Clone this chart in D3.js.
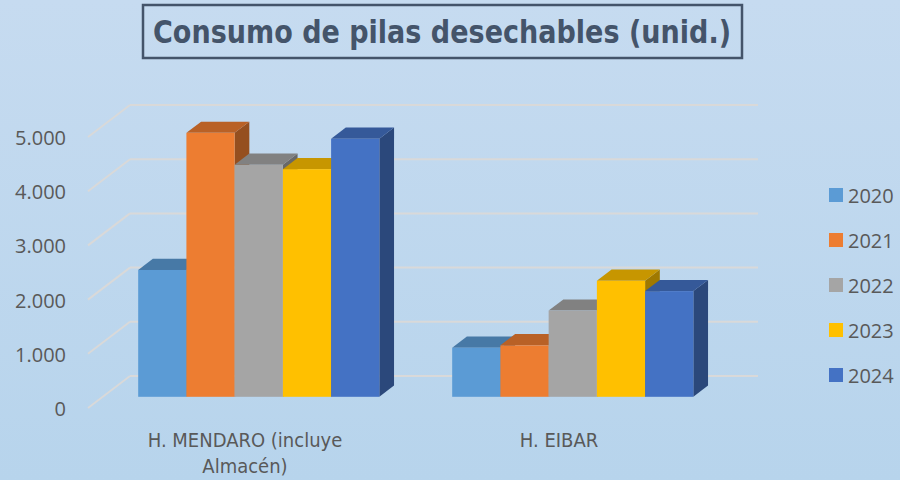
<!DOCTYPE html>
<html>
<head>
<meta charset="utf-8">
<script src="https://cdn.jsdelivr.net/npm/d3@7"></script>
<style>
  html, body { margin: 0; padding: 0; }
  body { width: 900px; height: 480px; overflow: hidden; }
</style>
</head>
<body>
<div id="chart"></div>
<script>
// data
var categories = ["H. MENDARO (incluye Almacén)", "H. EIBAR"];
var categoryLines = [["H. MENDARO (incluye", "Almacén)"], ["H. EIBAR"]];
var years = ["2020", "2021", "2022", "2023", "2024"];
var values2020 = [2340, 905];
var values2021 = [4870, 950];
var values2022 = [4280, 1590];
var values2023 = [4200, 2140];
var values2024 = [4760, 1950];
var yTicks = [0, 1000, 2000, 3000, 4000, 5000];
var colors = ["#5B9BD5", "#ED7D31", "#A5A5A5", "#FFC000", "#4472C4"];

var seriesValues = [values2020, values2021, values2022, values2023, values2024];

var width = 900, height = 480;

// front plane of the 3d box and the depth offset towards the back wall
var front = { left: 88, right: 716, bottom: 408, top: 137 };
var depth = { dx: 42, dy: -32 };
var barFront = 0.35, barBack = 0.70;   // bar position inside the depth

var svg = d3.select("#chart")
  .append("svg")
  .attr("width", width)
  .attr("height", height);

// background gradient
var defs = svg.append("defs");
var grad = defs.append("linearGradient")
  .attr("id", "bg")
  .attr("x1", 0).attr("y1", 0).attr("x2", 0).attr("y2", 1);
grad.append("stop").attr("offset", "0%").attr("stop-color", "#C6DBF0");
grad.append("stop").attr("offset", "100%").attr("stop-color", "#B7D4EC");

svg.append("rect")
  .attr("width", width)
  .attr("height", height)
  .attr("fill", "url(#bg)");

// scales
var y = d3.scaleLinear()
  .domain([0, 5000])
  .range([front.bottom, front.top]);

var x0 = d3.scaleBand()
  .domain(categories)
  .range([front.left, front.right])
  .padding(0);

var x1 = d3.scaleBand()
  .domain(years)
  .range([x0.bandwidth() * 0.113, x0.bandwidth() * 0.881])
  .padding(0);

// gridlines: back wall + left side wall edge
var grid = svg.append("g").attr("class", "grid");
grid.selectAll("line.back")
  .data(yTicks)
  .enter().append("line")
  .attr("class", "back")
  .attr("x1", front.left + depth.dx)
  .attr("x2", front.right + depth.dx)
  .attr("y1", function (d) { return y(d) + depth.dy; })
  .attr("y2", function (d) { return y(d) + depth.dy; })
  .attr("stroke", "#D9D9D9")
  .attr("stroke-width", 2);

grid.selectAll("line.side")
  .data(yTicks)
  .enter().append("line")
  .attr("class", "side")
  .attr("x1", front.left)
  .attr("y1", function (d) { return y(d); })
  .attr("x2", front.left + depth.dx)
  .attr("y2", function (d) { return y(d) + depth.dy; })
  .attr("stroke", "#D9D9D9")
  .attr("stroke-width", 2);

// 3d bars, drawn left to right so each front face covers the side of the previous bar
var fx = depth.dx * barFront, fy = depth.dy * barFront;
var bx = depth.dx * barBack, by = depth.dy * barBack;

var bars = [];
categories.forEach(function (c, ci) {
  years.forEach(function (yr, si) {
    bars.push({ cat: c, year: yr, value: seriesValues[si][ci], color: colors[si] });
  });
});

var bar = svg.append("g").attr("class", "bars")
  .selectAll("g")
  .data(bars)
  .enter().append("g");

function pts(arr) { return arr.map(function (p) { return p.join(","); }).join(" "); }

bar.append("polygon")
  .attr("points", function (d) {
    var xl = x0(d.cat) + x1(d.year), xr = xl + x1.bandwidth();
    var yv = y(d.value), yb = y(0);
    return pts([[xr + fx, yv + fy], [xr + bx, yv + by], [xr + bx, yb + by], [xr + fx, yb + fy]]);
  })
  .attr("fill", function (d) { return d3.color(d.color).darker(1.3); });

bar.append("polygon")
  .attr("points", function (d) {
    var xl = x0(d.cat) + x1(d.year), xr = xl + x1.bandwidth();
    var yv = y(d.value);
    return pts([[xl + fx, yv + fy], [xr + fx, yv + fy], [xr + bx, yv + by], [xl + bx, yv + by]]);
  })
  .attr("fill", function (d) { return d3.color(d.color).darker(0.7); });

bar.append("rect")
  .attr("x", function (d) { return x0(d.cat) + x1(d.year) + fx; })
  .attr("y", function (d) { return y(d.value) + fy; })
  .attr("width", x1.bandwidth())
  .attr("height", function (d) { return y(0) - y(d.value); })
  .attr("fill", function (d) { return d.color; });

// y axis labels
var locale = d3.formatLocale({ decimal: ",", thousands: ".", grouping: [3], currency: ["", "€"] });
var yAxis = d3.axisLeft(y)
  .tickValues(yTicks)
  .tickFormat(locale.format(",d"))
  .tickSize(0)
  .tickPadding(0);

var yg = svg.append("g")
  .attr("transform", "translate(66,1)")
  .call(yAxis);
yg.select(".domain").remove();
yg.selectAll("text")
  .attr("font-family", "'Open Sans', sans-serif")
  .attr("font-size", 20)
  .attr("fill", "#595959");

// category labels
var catG = svg.append("g").attr("class", "cats");
categories.forEach(function (c, i) {
  var t = catG.append("text")
    .attr("x", x0(c) + x0.bandwidth() / 2)
    .attr("y", 447)
    .attr("text-anchor", "middle")
    .attr("font-family", "'DejaVu Sans Condensed', sans-serif")
    .attr("font-stretch", "condensed")
    .attr("font-size", 20)
    .attr("fill", "#595959");
  categoryLines[i].forEach(function (line, li) {
    t.append("tspan")
      .attr("x", x0(c) + x0.bandwidth() / 2)
      .attr("dy", li === 0 ? 0 : 26)
      .text(line);
  });
});

// legend
var legend = svg.append("g").attr("class", "legend")
  .selectAll("g")
  .data(years)
  .enter().append("g")
  .attr("transform", function (d, i) { return "translate(829," + (195 + i * 45) + ")"; });

legend.append("rect")
  .attr("x", 0)
  .attr("y", -7)
  .attr("width", 14)
  .attr("height", 14)
  .attr("fill", function (d, i) { return colors[i]; });

legend.append("text")
  .attr("x", 19)
  .attr("y", 1)
  .attr("dy", "0.35em")
  .attr("font-family", "'Open Sans', sans-serif")
  .attr("font-size", 20)
  .attr("fill", "#595959")
  .text(function (d) { return d; });

// title in a box
svg.append("rect")
  .attr("x", 143)
  .attr("y", 5)
  .attr("width", 599)
  .attr("height", 53)
  .attr("fill", "none")
  .attr("stroke", "#44546A")
  .attr("stroke-width", 2.5);

svg.append("text")
  .attr("x", 442)
  .attr("y", 43)
  .attr("text-anchor", "middle")
  .attr("font-family", "'DejaVu Sans Condensed', sans-serif")
  .attr("font-stretch", "condensed")
  .attr("font-weight", "bold")
  .attr("font-size", 32)
  .attr("fill", "#44546A")
  .attr("textLength", 578)
  .attr("lengthAdjust", "spacingAndGlyphs")
  .text("Consumo de pilas desechables (unid.)");
</script>
</body>
</html>
